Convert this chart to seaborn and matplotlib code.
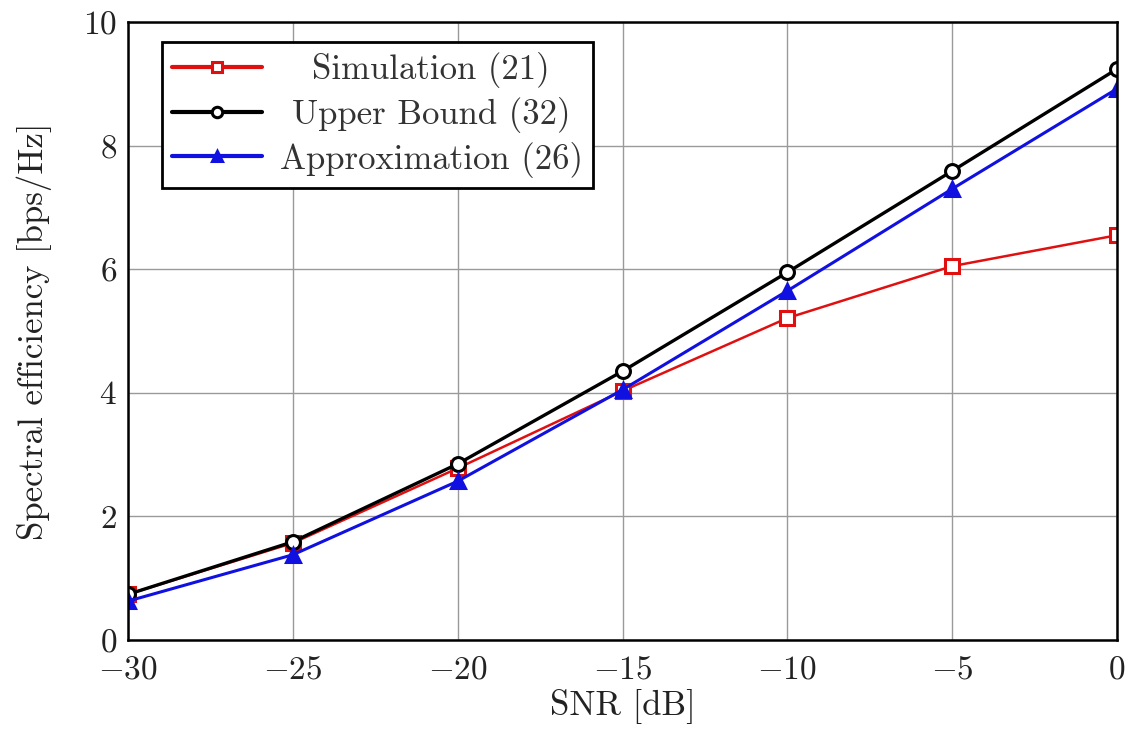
import matplotlib
matplotlib.use("Agg")
import matplotlib.pyplot as plt
import seaborn as sns
import pandas as pd

snr_db = [-30, -25, -20, -15, -10, -5, 0]
simulation = [0.74, 1.57, 2.78, 4.03, 5.21, 6.05, 6.55]
upper_bound = [0.74, 1.59, 2.85, 4.35, 5.95, 7.59, 9.24]
approximation = [0.63, 1.38, 2.57, 4.05, 5.65, 7.30, 8.92]

series_names = ["Simulation (21)", "Upper Bound (32)", "Approximation (26)"]
x_ticks = [-30, -25, -20, -15, -10, -5, 0]
y_ticks = [0, 2, 4, 6, 8, 10]

sns.set_theme(style="whitegrid")
plt.rcParams.update({
    "font.family": "serif",
    "font.serif": ["cmr10", "DejaVu Serif"],
    "mathtext.fontset": "cm",
    "axes.formatter.use_mathtext": True,
    "axes.unicode_minus": True,
})

fig = plt.figure(figsize=(11.3, 7.34), dpi=100)
ax = fig.add_axes([0.1133, 0.128, 0.8752, 0.842])

styles = [
    (simulation, "#e01010", "s", "white", 1.8),
    (upper_bound, "black", "o", "white", 2.4),
    (approximation, "#1010e0", "^", "#1010e0", 2.2),
]
for (vals, color, marker, face, lw), name in zip(styles, series_names):
    df = pd.DataFrame({"SNR": snr_db, "SE": vals})
    sns.lineplot(data=df, x="SNR", y="SE", ax=ax, color=color, marker=marker,
                 markersize=10, markerfacecolor=face, markeredgecolor=color,
                 markeredgewidth=2.2, linewidth=lw, label=name)

ax.set_xlim(-30, 0)
ax.set_ylim(0, 10)
ax.set_xticks(x_ticks)
ax.set_yticks(y_ticks)
ax.set_xlabel("SNR [dB]", fontsize=25, color="#222222", labelpad=3)
ax.set_ylabel("Spectral efficiency [bps/Hz]", fontsize=25, color="#222222",
              labelpad=22)
ax.tick_params(axis="x", labelsize=24, direction="in", length=5,
               color="black", width=1.0, labelcolor="#222222", pad=11)
ax.tick_params(axis="y", labelsize=24, direction="in", length=5,
               color="black", width=1.0, labelcolor="#222222", pad=8)
ax.grid(True, color="#9a9a9a", linewidth=1.0)
ax.set_facecolor("white")
for sp in ax.spines.values():
    sp.set_color("black")
    sp.set_linewidth(1.8)

leg = ax.legend(loc="upper left", bbox_to_anchor=(0.034, 0.968), fontsize=25,
                frameon=True, fancybox=False, edgecolor="black", framealpha=1,
                handlelength=2.6, borderpad=0.3, labelspacing=0.25,
                handletextpad=0.5, markerscale=0.75, borderaxespad=0)
leg.get_frame().set_linewidth(2.0)
for h in leg.get_lines():
    h.set_linewidth(3.0)

# centre each legend label within the text column
fig.canvas.draw()
renderer = fig.canvas.get_renderer()
texts = leg.get_texts()
widths = [t.get_window_extent(renderer).width for t in texts]
wmax = max(widths)
for t, w in zip(texts, widths):
    t.set_color("#333333")
    t.set_position(((wmax - w) / 2.0, 0))

fig.savefig("out.png", dpi=100, facecolor="white")
